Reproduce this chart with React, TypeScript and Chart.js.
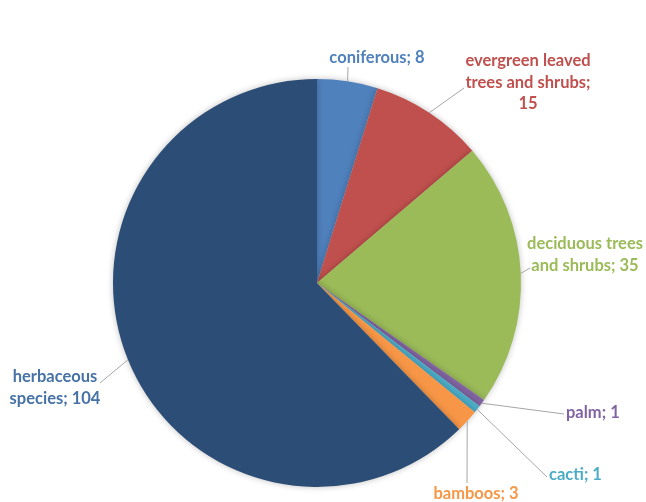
import React, { useEffect, useRef } from "react";
import { Chart, registerables } from "chart.js";

Chart.register(...registerables);

const categories = [
  "coniferous",
  "evergreen leaved trees and shrubs",
  "deciduous trees and shrubs",
  "palm",
  "cacti",
  "bamboos",
  "herbaceous species",
];
const counts = [8, 15, 35, 1, 1, 3, 104];
const sliceColors = ["#4F81BD", "#C0504D", "#9BBB59", "#8064A2", "#4BACC6", "#F79646", "#2C4D75"];
const textColors = ["#4F81BD", "#C0504D", "#9BBB59", "#8064A2", "#4BACC6", "#F79646", "#4672A6"];
// label text lines (category; value)
const labelLines = [
  ["coniferous; 8"],
  ["evergreen leaved", "trees and shrubs;", "15"],
  ["deciduous trees", "and shrubs; 35"],
  ["palm; 1"],
  ["cacti; 1"],
  ["bamboos; 3"],
  ["herbaceous", "species; 104"],
];

// layout of labels: text position, alignment, leader end point
const labelLayout = [
  { x: 377, y: 58, align: "center", end: [348, 67] },
  { x: 528, y: 61, align: "center", end: [464, 88] },
  { x: 585, y: 244, align: "center", end: [530, 268] },
  { x: 566, y: 413, align: "left", end: [564, 414] },
  { x: 549, y: 475, align: "left", end: [547, 477] },
  { x: 476, y: 494, align: "center", end: [467, 483] },
  { x: 55, y: 377, align: "center", end: [100, 383] },
];

const labelPlugin = {
  id: "pieLabels",
  afterDatasetsDraw(chart: any) {
    const ctx = chart.ctx;
    const meta = chart.getDatasetMeta(0);
    ctx.save();
    ctx.font = "bold 16.5px Lato";
    ctx.textBaseline = "middle";
    meta.data.forEach((arc: any, i: number) => {
      const p = arc.getProps(["x", "y", "startAngle", "endAngle", "outerRadius"], true);
      const mid = (p.startAngle + p.endAngle) / 2;
      const ax = p.x + Math.cos(mid) * p.outerRadius;
      const ay = p.y + Math.sin(mid) * p.outerRadius;
      const L = labelLayout[i];
      ctx.strokeStyle = "#A6A6A6";
      ctx.lineWidth = 1;
      ctx.beginPath();
      ctx.moveTo(ax, ay);
      ctx.lineTo(L.end[0], L.end[1]);
      ctx.stroke();
      ctx.fillStyle = textColors[i];
      ctx.textAlign = L.align;
      labelLines[i].forEach((line, k) => {
        ctx.fillText(line, L.x, L.y + k * 21.5);
      });
    });
    ctx.restore();
  },
};

const shadowPlugin = {
  id: "pieShadow",
  beforeDatasetsDraw(chart: any) {
    const ctx = chart.ctx;
    ctx.save();
    ctx.shadowColor = "rgba(0,0,0,0.25)";
    ctx.shadowBlur = 6;
  },
  afterDatasetsDraw(chart: any) {
    chart.ctx.restore();
  },
};

export default function App() {
  const ref = useRef<HTMLCanvasElement>(null);
  useEffect(() => {
    const chart = new Chart(ref.current!, {
      type: "pie",
      data: {
        labels: categories,
        datasets: [
          {
            data: counts,
            backgroundColor: sliceColors,
            borderWidth: 0,
          },
        ],
      },
      options: {
        responsive: false,
        animation: false,
        layout: { padding: { left: 113, right: 125, top: 79, bottom: 15 } },
        plugins: {
          legend: { display: false },
          tooltip: { enabled: false },
        },
      },
      plugins: [shadowPlugin, labelPlugin],
    });
    return () => chart.destroy();
  }, []);
  return (
    <div style={{ position: "fixed", left: 0, top: 0, width: 646, height: 502, background: "#fff" }}>
      <canvas ref={ref} width={646} height={502} />
    </div>
  );
}
